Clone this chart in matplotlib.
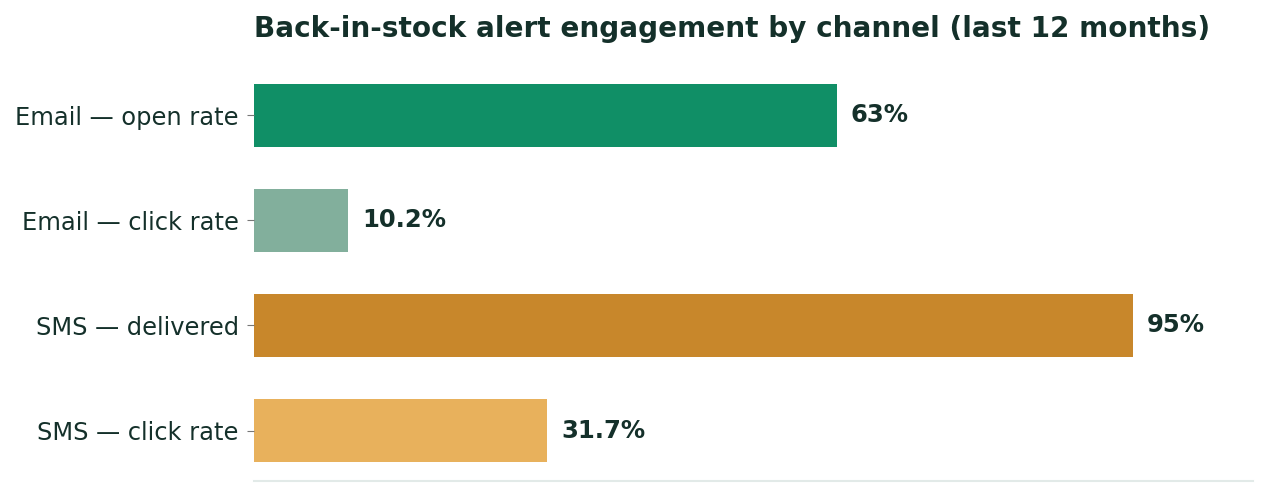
import matplotlib.pyplot as plt

plt.rcParams['font.family'] = ['DejaVu Sans']

categories = ["Email — open rate", "Email — click rate", "SMS — delivered", "SMS — click rate"]
values = [63, 10.2, 95, 31.7]
labels = ["63%", "10.2%", "95%", "31.7%"]
colors = ["#108f66", "#82af9c", "#c8872b", "#e8b15c"]

text_color = "#14302a"

fig = plt.figure(figsize=(12.68, 4.96), dpi=100)
ax = fig.add_axes([0.2003, 0.0302, 0.788, 0.839])

bars = ax.barh(categories, values, height=0.6, color=colors)
ax.invert_yaxis()
ax.set_xlim(0, 108)

for bar, lab in zip(bars, labels):
    ax.text(bar.get_width() + 1.5, bar.get_y() + bar.get_height() / 2, lab,
            va="center", ha="left", fontsize=17.5, fontweight="bold", color=text_color)

ax.set_title("Back-in-stock alert engagement by channel (last 12 months)",
             loc="left", fontsize=20.1, fontweight="bold", color=text_color, pad=20)

for s in ["top", "right", "left"]:
    ax.spines[s].set_visible(False)
ax.spines["bottom"].set_color("#e2eae8")
ax.spines["bottom"].set_linewidth(1.5)
ax.set_xticks([])
ax.tick_params(axis="y", length=5, color="#777777", labelsize=17.4, labelcolor=text_color, pad=6)

fig.savefig("out.png", dpi=100)
